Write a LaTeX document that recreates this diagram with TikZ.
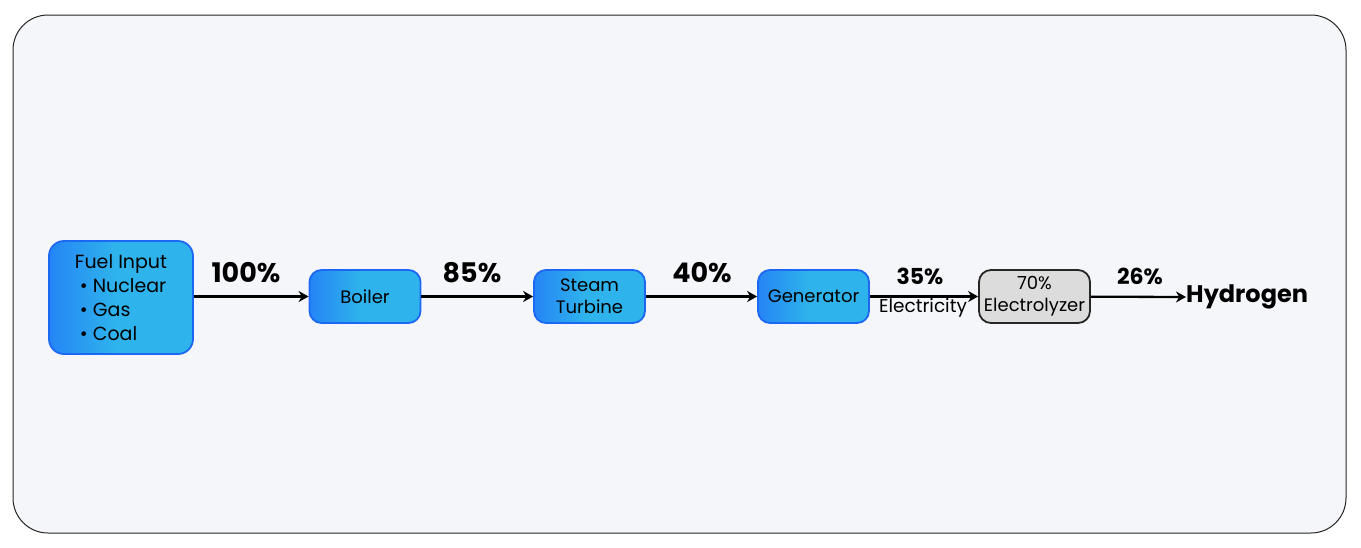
\documentclass[tikz,border=0pt]{standalone}
\usepackage{fontspec}
\setmainfont{Poppins}
\usetikzlibrary{arrows.meta}
\definecolor{bg}{HTML}{F5F6FA}
\definecolor{blueL}{HTML}{2585F5}
\definecolor{blueR}{HTML}{2EB3EC}
\definecolor{blueB}{HTML}{1C68F2}
\definecolor{greyF}{HTML}{DCDCDC}
\definecolor{greyB}{HTML}{262626}
\pgfdeclarehorizontalshading{boxshade}{100bp}{color(0bp)=(blueL); color(25bp)=(blueL); color(48bp)=(blueR); color(100bp)=(blueR)}
\tikzset{
  box/.style={rounded corners=12, draw=blueB, line width=1.8, shading=boxshade, shading angle=0,
    minimum width=111, minimum height=53, align=center, inner sep=2,
    font=\fontsize{18}{22}\selectfont},
  gbox/.style={rounded corners=12, draw=greyB, line width=1.8, fill=greyF,
    minimum width=111, minimum height=53, align=center, inner sep=2,
    font=\fontsize{18}{22}\selectfont},
  flow/.style={line width=2.3, -{Stealth[length=10pt,width=11pt]}},
  pct/.style={font=\bfseries\fontsize{27}{30}\selectfont, inner sep=0},
  spct/.style={font=\bfseries\fontsize{22}{25}\selectfont, inner sep=0},
  lbl/.style={font=\fontsize{18.5}{21}\selectfont, inner sep=0}
}
\begin{document}
\begin{tikzpicture}[x=1pt,y=-1pt]
\useasboundingbox (0,0) rectangle (1361,547);
\fill[white] (0,0) rectangle (1361,547);
\draw[fill=bg, draw=black!85, line width=1, rounded corners=35] (13,15) rectangle (1346,533);

\node[box, minimum width=144, minimum height=113, rounded corners=15, align=left,
  font=\fontsize{19}{24}\selectfont] (fuel) at (121,297.5)
  {Fuel Input\\\hspace{5pt}\textbullet\ Nuclear\\\hspace{5pt}\textbullet\ Gas\\\hspace{5pt}\textbullet\ Coal};
\node[box] (boiler) at (365,296.5) {Boiler};
\node[box] (turbine) at (589.5,296.5) {Steam\\Turbine};
\node[box] (gen) at (813.5,296.5) {Generator};
\node[gbox] (elec) at (1034.5,296.5) {70\%\\Electrolyzer};
\node[font=\bfseries\fontsize{24}{27}\selectfont, inner sep=0, anchor=west] (h2) at (1186,297) {Hydrogen};

\draw[flow] (fuel.east |- boiler.west) -- (boiler.west);
\draw[flow] (boiler) -- (turbine);
\draw[flow] (turbine) -- (gen);
\draw[flow] (gen) -- (elec);
\draw[flow] (elec) -- (h2.west);

\node[pct] (p100) at (246,273) {100\%};
\node[pct] (p85) at (472,273) {85\%};
\node[pct] (p40) at (702,273) {40\%};
\node[spct] (p35) at (920,276) {35\%};
\node[lbl] (elbl) at (923,308) {Electricity};
\node[spct] (p26) at (1140,276) {26\%};
\end{tikzpicture}
\end{document}
